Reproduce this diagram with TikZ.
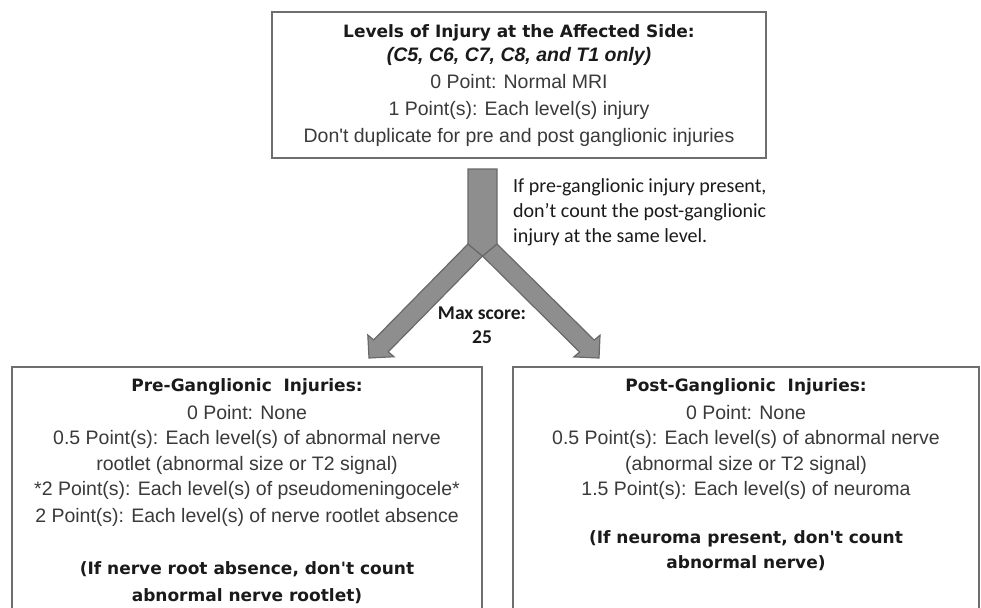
\documentclass[tikz,border=0pt]{standalone}
\usepackage{fontspec}
\setmainfont{Liberation Sans}
\newfontfamily\dejavu{DejaVu Sans}
\newfontfamily\carlito{Carlito}
\usetikzlibrary{calc}
\definecolor{boxline}{HTML}{6E6E6E}
\definecolor{bodytxt}{HTML}{3A3A3A}
\definecolor{titletxt}{HTML}{1A1A1A}
\definecolor{arrowfill}{HTML}{8E8E8E}
\definecolor{arrowline}{HTML}{696969}
\begin{document}
\begin{tikzpicture}[x=1pt,y=-1pt,
  boxframe/.style={draw=boxline,line width=1.8pt,fill=white},
  bodytext/.style={inner sep=0pt,anchor=base,text=bodytxt,font=\fontsize{19.5}{26}\selectfont},
  titletext/.style={inner sep=0pt,anchor=base,text=titletxt,font=\dejavu\bfseries\fontsize{17}{22}\selectfont},
  annot/.style={inner sep=0pt,anchor=base west,text=titletxt,font=\carlito\fontsize{20}{25}\selectfont},
  maxtext/.style={inner sep=0pt,anchor=base,text=titletxt,font=\carlito\bfseries\fontsize{19.5}{24}\selectfont},
  flowarrow/.style={fill=arrowfill,draw=arrowline,line width=1.2pt,line join=miter}]
\useasboundingbox (0,0) rectangle (981,607);
\clip (0,0) rectangle (981,607);

% boxes
\draw[boxframe] (272,12) rectangle (766,158);
\draw[boxframe] (12,367) rectangle (482,625);
\draw[boxframe] (513,367) rectangle (979,625);

% top box text
\node[titletext] (toptitle) at (519,38) {Levels of Injury at the Affected Side:};
\node[bodytext,text=titletxt,font=\bfseries\itshape\fontsize{19.5}{26}\selectfont] (topsub) at (519,62) {(C5, C6, C7, C8, and T1 only)};
\node[bodytext] (topa) at (519,89) {0 Point: Normal MRI};
\node[bodytext] (topb) at (519,115) {1 Point(s): Each level(s) injury};
\node[bodytext] (topc) at (519,142) {Don\textquotesingle t duplicate for pre and post ganglionic injuries};

% pre-ganglionic box text
\node[titletext] (pretitle) at (247,391) {Pre-Ganglionic\ \ Injuries:};
\node[bodytext] (prea) at (247,419) {0 Point: None};
\node[bodytext] (preb) at (247,444) {0.5 Point(s): Each level(s) of abnormal nerve};
\node[bodytext] (prec) at (247,470) {rootlet (abnormal size or T2 signal)};
\node[bodytext] (pred) at (247,495) {*2 Point(s): Each level(s) of pseudomeningocele*};
\node[bodytext] (pree) at (247,522) {2 Point(s): Each level(s) of nerve rootlet absence};
\node[titletext] (pref) at (247,574) {(If nerve root absence, don't count};
\node[titletext] (preg) at (247,601) {abnormal nerve rootlet)};

% post-ganglionic box text
\node[titletext] (posttitle) at (746,391) {Post-Ganglionic\ \ Injuries:};
\node[bodytext] (posta) at (746,419) {0 Point: None};
\node[bodytext] (postb) at (746,444) {0.5 Point(s): Each level(s) of abnormal nerve};
\node[bodytext] (postc) at (746,470) {(abnormal size or T2 signal)};
\node[bodytext] (postd) at (746,495) {1.5 Point(s): Each level(s) of neuroma};
\node[titletext] (poste) at (746,543) {(If neuroma present, don't count};
\node[titletext] (postf) at (746,568) {abnormal nerve)};

% split arrow
\coordinate (stemTL) at (468,169);
\coordinate (stemTR) at (497,169);
\coordinate (stemBL) at (468,244);
\coordinate (stemBR) at (497,244);
\coordinate (V) at (482.5,256);
\coordinate (TL) at (369,358);
\coordinate (TR) at (599,358);
\coordinate (ML) at ($(stemBL)!0.5!(V)$);
\coordinate (MR) at ($(stemBR)!0.5!(V)$);
\coordinate (BL) at ($(TL)!17pt!(ML)$);
\coordinate (BR) at ($(TR)!17pt!(MR)$);
\coordinate (L1) at ($(stemBL)+(BL)-(ML)$);
\coordinate (L2) at ($(V)+(BL)-(ML)$);
\coordinate (R1) at ($(stemBR)+(BR)-(MR)$);
\coordinate (R2) at ($(V)+(BR)-(MR)$);
\coordinate (LH1) at ($(BL)!17pt!(L1)$);
\coordinate (LH2) at ($(BL)!17pt!(L2)$);
\coordinate (RH1) at ($(BR)!17pt!(R1)$);
\coordinate (RH2) at ($(BR)!17pt!(R2)$);
\draw[flowarrow] (stemBL) -- (L1) -- (LH1) -- (TL) -- (LH2) -- (L2) -- (V) -- cycle;
\draw[flowarrow] (stemBR) -- (R1) -- (RH1) -- (TR) -- (RH2) -- (R2) -- (V) -- cycle;
\draw[flowarrow] (stemTL) -- (stemTR) -- (stemBR) -- (V) -- (stemBL) -- cycle;

% annotations
\node[annot] (notea) at (513,192) {If pre-ganglionic injury present,};
\node[annot] (noteb) at (513,217) {don’t count the post-ganglionic};
\node[annot] (notec) at (513,242) {injury at the same level.};
\node[maxtext] (maxa) at (482,319) {Max score:};
\node[maxtext] (maxb) at (482,343) {25};
\end{tikzpicture}
\end{document}
